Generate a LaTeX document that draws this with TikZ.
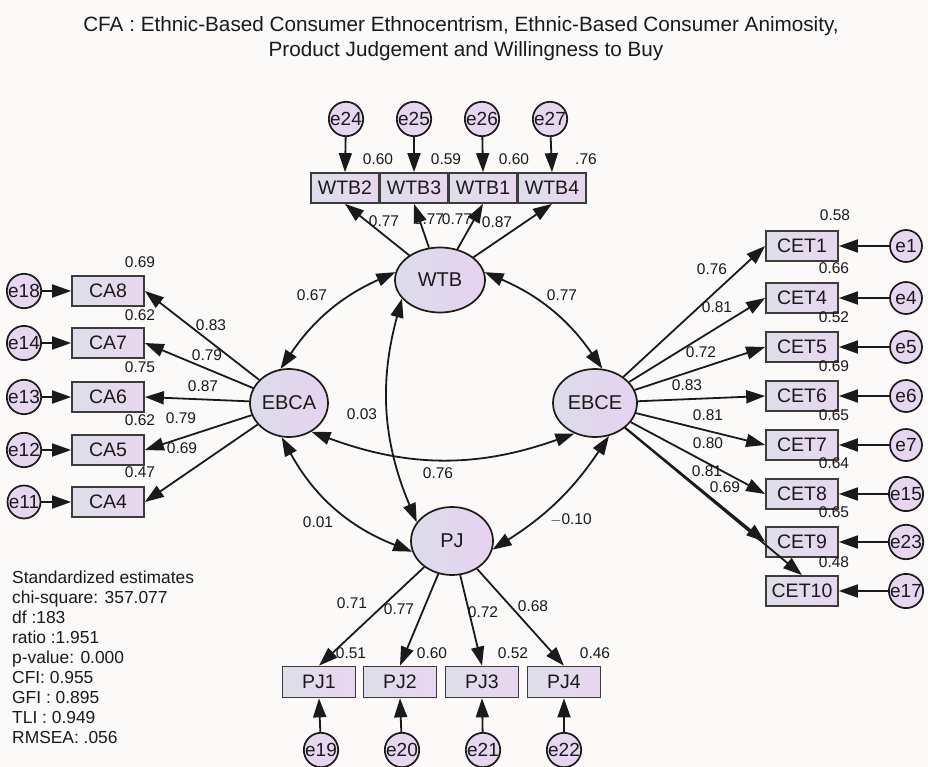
\documentclass[tikz,border=0pt]{standalone}
\usepackage{fontspec}
\setmainfont{Liberation Sans}
\usetikzlibrary{shapes.geometric,arrows.meta}
\definecolor{bg}{HTML}{FCFAF9}
\definecolor{boxL}{HTML}{DEDEE8}
\definecolor{boxR}{HTML}{E8D6F0}
\definecolor{ellL}{HTML}{DCDCEA}
\definecolor{ellR}{HTML}{E6D2F0}
\definecolor{errC}{HTML}{E6D6F0}
\definecolor{ink}{HTML}{1A1A1A}
\begin{document}
\begin{tikzpicture}[x=1pt,y=-1pt,
  every node/.style={text=ink},
  obs/.style={rectangle, draw=ink!85, line width=1.7pt, left color=boxL, right color=boxR, minimum width=72pt, minimum height=30pt, inner sep=0pt, font=\fontsize{19.5}{22}\selectfont},
  wtbbox/.style={obs, minimum width=68pt},
  pjbox/.style={obs, minimum width=73pt, minimum height=31pt},
  lat/.style={ellipse, draw=ink, line width=1.7pt, left color=ellL, right color=ellR, inner sep=0pt, font=\fontsize{20}{22}\selectfont},
  err/.style={circle, draw=ink, line width=1.7pt, fill=errC, minimum size=32pt, inner sep=0pt, font=\fontsize{19}{20}\selectfont},
  lab/.style={inner sep=0pt, font=\fontsize{15.5}{18}\selectfont},
  arr/.style={draw=ink, line width=1.8pt, -{Triangle[length=19pt,width=13pt]}},
  cov/.style={draw=ink, line width=1.8pt, {Triangle[length=19pt,width=13pt]}-{Triangle[length=19pt,width=13pt]}},
  stat/.style={anchor=base west, inner sep=0pt, font=\fontsize{17.4}{20}\selectfont},
  ttl/.style={anchor=base, inner sep=0pt, font=\fontsize{20.7}{24}\selectfont}
]
\useasboundingbox (0,0) rectangle (928,767);
\fill[bg] (0,0) rectangle (928,767);

% title
\node[ttl] (t1) at (461,32) {CFA : Ethnic-Based Consumer Ethnocentrism, Ethnic-Based Consumer Animosity,};
\node[ttl] (t2) at (466,57) {Product Judgement and Willingness to Buy};

% latent variables
\node[lat, minimum width=90pt, minimum height=65pt] (wtb) at (440,280) {WTB};
\node[lat, minimum width=78pt, minimum height=68pt] (ebca) at (289,403) {EBCA};
\node[lat, minimum width=84pt, minimum height=68pt] (ebce) at (595,403) {EBCE};
\node[lat, minimum width=82pt, minimum height=68pt] (pj) at (452,541) {PJ};

% WTB indicators
\node[wtbbox] (wtb2) at (345,188) {WTB2};
\node[wtbbox] (wtb3) at (414,188) {WTB3};
\node[wtbbox] (wtb1) at (483,188) {WTB1};
\node[wtbbox] (wtb4) at (552,188) {WTB4};
\node[err] (e24) at (346,119) {e24};
\node[err] (e25) at (414,119) {e25};
\node[err] (e26) at (482,119) {e26};
\node[err] (e27) at (550,119) {e27};

% CA indicators
\node[obs] (ca8) at (108,291) {CA8};
\node[obs] (ca7) at (108,343) {CA7};
\node[obs] (ca6) at (108,397) {CA6};
\node[obs] (ca5) at (108,450) {CA5};
\node[obs] (ca4) at (108,502) {CA4};
\node[err] (e18) at (24,291) {e18};
\node[err] (e14) at (24,343) {e14};
\node[err] (e13) at (24,397) {e13};
\node[err] (e12) at (24,450) {e12};
\node[err] (e11) at (24,502) {e11};

% CET indicators
\node[obs] (cet1) at (802,246) {CET1};
\node[obs] (cet4) at (802,298) {CET4};
\node[obs] (cet5) at (802,347) {CET5};
\node[obs] (cet6) at (802,396) {CET6};
\node[obs] (cet7) at (802,445) {CET7};
\node[obs] (cet8) at (802,494) {CET8};
\node[obs] (cet9) at (802,542) {CET9};
\node[obs] (cet10) at (802,591) {CET10};
\node[err] (e1) at (906,246) {e1};
\node[err] (e4) at (906,298) {e4};
\node[err] (e5) at (906,347) {e5};
\node[err] (e6) at (906,396) {e6};
\node[err] (e7) at (906,445) {e7};
\node[err] (e15) at (906,494) {e15};
\node[err] (e23) at (906,542) {e23};
\node[err] (e17) at (906,591) {e17};

% PJ indicators
\node[pjbox] (pj1) at (319,682) {PJ1};
\node[pjbox] (pj2) at (400,682) {PJ2};
\node[pjbox] (pj3) at (482,682) {PJ3};
\node[pjbox] (pj4) at (564,682) {PJ4};
\node[err] (e19) at (321,750) {e19};
\node[err] (e20) at (402,750) {e20};
\node[err] (e21) at (483,750) {e21};
\node[err] (e22) at (564,750) {e22};

% error arrows
\foreach \e/\b in {e24/wtb2,e25/wtb3,e26/wtb1,e27/wtb4}
  \draw[arr] (\e) -- (\b.north);
\foreach \e/\b in {e18/ca8,e14/ca7,e13/ca6,e12/ca5,e11/ca4}
  \draw[arr] (\e) -- (\b.west);
\foreach \e/\b in {e1/cet1,e4/cet4,e5/cet5,e6/cet6,e7/cet7,e15/cet8,e23/cet9,e17/cet10}
  \draw[arr] (\e) -- (\b.east);
\foreach \e/\b in {e19/pj1,e20/pj2,e21/pj3,e22/pj4}
  \draw[arr] (\e) -- (\b.south);

% loadings
\foreach \b in {wtb2,wtb3,wtb1,wtb4}
  \draw[arr] (wtb) -- (\b.south);
\foreach \b in {ca8,ca7,ca6,ca5,ca4}
  \draw[arr] (ebca) -- (\b.east);
\foreach \b in {cet1,cet4,cet5,cet6,cet7,cet8,cet9}
  \draw[arr] (ebce) -- (\b.west);
\draw[arr] (ebce) -- (cet10.north);
\foreach \b in {pj1,pj2,pj3,pj4}
  \draw[arr] (pj) -- (\b.north);

% covariances
\draw[cov] (wtb.170) to[bend right=16] (ebca.104);
\draw[cov] (wtb.10) to[bend left=16] (ebce.78);
\draw[cov] (wtb.206) to[bend right=19] (pj.152);
\draw[cov] (ebca.308) to[bend right=20] (ebce.236);
\draw[cov] (ebca.258) to[bend right=20] (pj.195);
\draw[cov] (ebce.293) to[bend left=12] (pj.348);

% labels: WTB
\node[lab] (rw2) at (378,159) {0.60};
\node[lab] (rw3) at (446,159) {0.59};
\node[lab] (rw1) at (514,159) {0.60};
\node[lab] (rw4) at (586,159) {.76};
\node[lab] (lw2) at (384,221) {0.77};
\node[lab] (lw3) at (429,219) {0.77};
\node[lab] (lw1) at (457,219) {0.77};
\node[lab] (lw4) at (497,222) {0.87};

% labels: covariances
\node[lab] (c1) at (312,295) {0.67};
\node[lab] (c2) at (562,295) {0.77};
\node[lab] (c3) at (362,414) {0.03};
\node[lab] (c4) at (438,473) {0.76};
\node[lab] (c5) at (318,522) {0.01};
\node[lab] (c6) at (571,520) {$-$0.10};

% labels: CA
\node[lab] (rca8) at (140,262) {0.69};
\node[lab] (rca7) at (140,315) {0.62};
\node[lab] (rca6) at (140,367) {0.75};
\node[lab] (rca5) at (140,420) {0.62};
\node[lab] (rca4) at (140,472) {0.47};
\node[lab] (lca8) at (211,325) {0.83};
\node[lab] (lca7) at (207,355) {0.79};
\node[lab] (lca6) at (203,386) {0.87};
\node[lab] (lca5) at (181,418) {0.79};
\node[lab] (lca4) at (182,448) {0.69};

% labels: CET
\node[lab] (rc1) at (835,215) {0.58};
\node[lab] (rc4) at (834,268) {0.66};
\node[lab] (rc5) at (834,317) {0.52};
\node[lab] (rc6) at (834,366) {0.69};
\node[lab] (rc7) at (834,415) {0.65};
\node[lab] (rc8) at (834,463) {0.64};
\node[lab] (rc9) at (834,512) {0.65};
\node[lab] (rc10) at (834,562) {0.48};
\node[lab] (lc1) at (712,269) {0.76};
\node[lab] (lc4) at (717,307) {0.81};
\node[lab] (lc5) at (701,352) {0.72};
\node[lab] (lc6) at (687,385) {0.83};
\node[lab] (lc7) at (708,415) {0.81};
\node[lab] (lc8) at (708,443) {0.80};
\node[lab] (lc9) at (707,471) {0.81};
\node[lab] (lc10) at (725,487) {0.69};

% labels: PJ
\node[lab] (lp1) at (352,603) {0.71};
\node[lab] (lp2) at (399,609) {0.77};
\node[lab] (lp3) at (483,612) {0.72};
\node[lab] (lp4) at (533,606) {0.68};
\node[lab] (rp1) at (351,653) {0.51};
\node[lab] (rp2) at (432,653) {0.60};
\node[lab] (rp3) at (513,653) {0.52};
\node[lab] (rp4) at (595,653) {0.46};

% fit statistics
\node[stat] (s1) at (12,583) {Standardized estimates};
\node[stat] (s2) at (12,603) {chi-square: 357.077};
\node[stat] (s3) at (12,623) {df :183};
\node[stat] (s4) at (12,643) {ratio :1.951};
\node[stat] (s5) at (12,663) {p-value: 0.000};
\node[stat] (s6) at (12,683) {CFI: 0.955};
\node[stat] (s7) at (12,703) {GFI : 0.895};
\node[stat] (s8) at (12,723) {TLI : 0.949};
\node[stat] (s9) at (12,743) {RMSEA: .056};
\end{tikzpicture}
\end{document}
